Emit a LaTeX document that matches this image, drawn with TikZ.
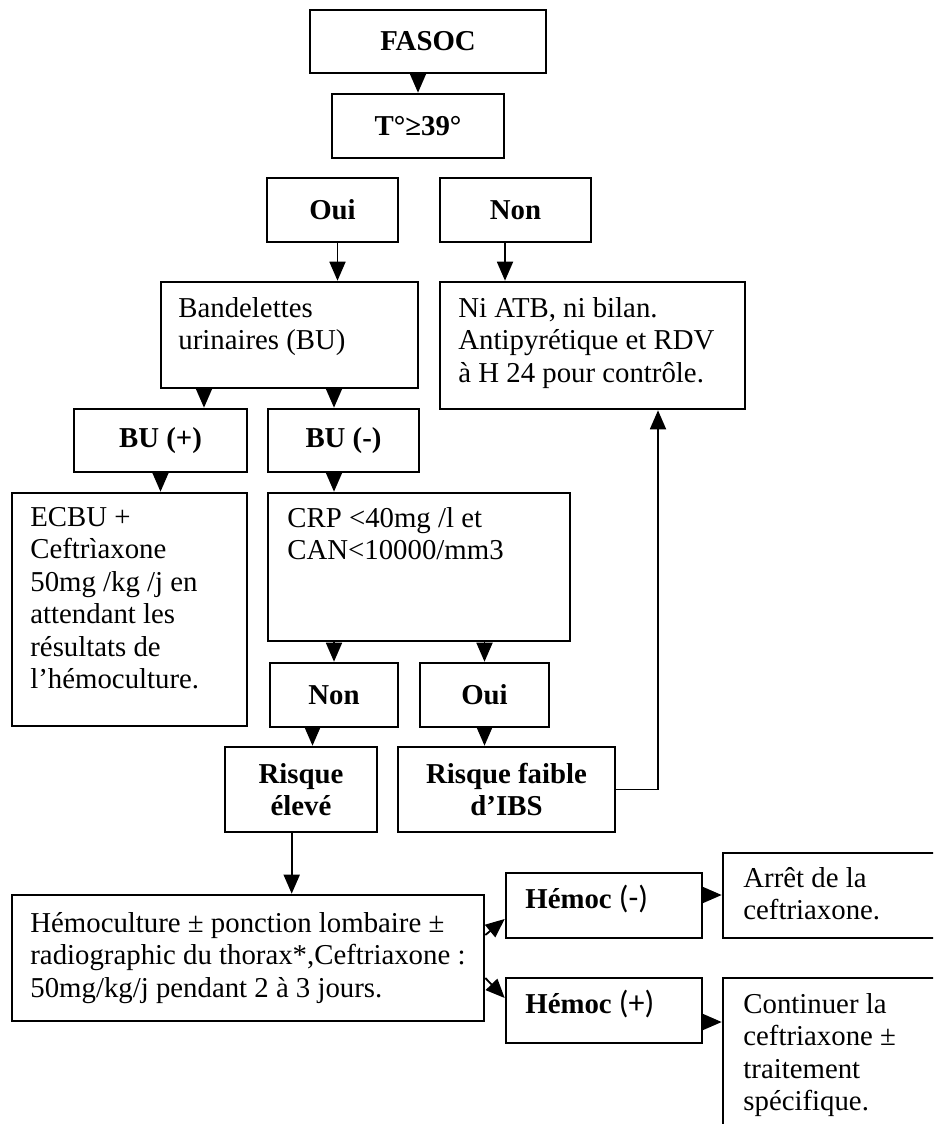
\documentclass[tikz,border=0pt]{standalone}
\usepackage{fontspec}
\setmainfont{Liberation Serif}
\newfontfamily\calib{Carlito}
\usetikzlibrary{arrows.meta,fit}

\newcommand{\chartfont}{\fontsize{14.4}{16.25}\selectfont}

\begin{document}
\begin{tikzpicture}[x=0.5pt, y=-0.5pt,
    box/.style={draw, line width=1.3pt, inner sep=0pt},
    hlab/.style={font=\chartfont\bfseries, align=center, inner sep=0pt},
    txt/.style={anchor=north west, inner sep=0pt, align=left, font=\chartfont},
    arr/.style={line width=0.9pt, -{Triangle[length=9.5pt, width=8pt]}},
  ]

\useasboundingbox (0,0) rectangle (933,1124);
\clip (0,0) rectangle (933,1124);

%fever question
\node[box, fit={(310,10) (546,73)}, label={[hlab]center:FASOC}] (fasoc) {};
\node[box, fit={(332,94) (504,158)}, label={[hlab]center:T°≥39°}] (temp) {};
\node[box, fit={(267,178) (398,242)}, label={[hlab]center:Oui}] (oui) {};
\node[box, fit={(440,178) (591,242)}, label={[hlab]center:Non}] (non) {};

\node[box, fit={(161,282) (418,388)}] (bandel) {};
\node[txt] (bandel-t) at (178,297) {Bandelettes\\urinaires (BU)};
\node[box, fit={(440,282) (745,409)}] (niatb) {};
\node[txt] (niatb-t) at (458,297) {Ni ATB, ni bilan.\\Antipyrétique et RDV\\à H 24 pour contrôle.};

%urine strips
\node[box, fit={(74,409) (247,472)}, label={[hlab]center:BU (+)}] (buplus) {};
\node[box, fit={(268,409) (419,472)}, label={[hlab]center:BU (-)}] (buminus) {};
\node[box, fit={(12,493) (247,726)}] (ecbu) {};
\node[txt] (ecbu-t) at (30,507) {ECBU +\\Ceftrìaxone\\50mg /kg /j en\\attendant les\\résultats de\\l’hémoculture.};
\node[box, fit={(268,493) (570,641)}] (crp) {};
\node[txt] (crp-t) at (287,507) {CRP <40mg /l et\\CAN<10000/mm3};

\node[box, fit={(270,663) (398,727)}, label={[hlab]center:Non}] (non2) {};
\node[box, fit={(420,663) (549,727)}, label={[hlab]center:Oui}] (oui2) {};
\node[box, fit={(225,747) (377,832)}, label={[hlab]center:Risque\\élevé}] (rhigh) {};
\node[box, fit={(398,747) (615,832)}, label={[hlab]center:Risque faible\\d’IBS}] (rlow) {};

%blood culture
\node[box, fit={(12,895) (484,1021)}] (hemo) {};
\node[txt] (hemo-t) at (30,912) {Hémoculture ± ponction lombaire ±\\radiographic du thorax*,Ceftriaxone :\\50mg/kg/j pendant 2 à 3 jours.};
\node[box, fit={(506,873) (702,938)}] (hneg) {};
\node[anchor=base west, inner sep=0pt, font=\chartfont] (hneg-t) at (525,908) {\textbf{Hémoc} {\calib\fontsize{16}{18}\selectfont (-)}};
\node[box, fit={(506,978) (702,1043)}] (hpos) {};
\node[anchor=base west, inner sep=0pt, font=\chartfont] (hpos-t) at (525,1013) {\textbf{Hémoc} {\calib\fontsize{16}{18}\selectfont (+)}};
\node[box, fit={(723,853) (1000,938)}] (arret) {};
\node[txt] (arret-t) at (743,867) {Arrêt de la\\ceftriaxone.};
\node[box, fit={(723,978) (1000,1200)}] (cont) {};
\node[txt] (cont-t) at (743,993) {Continuer la\\ceftriaxone ±\\traitement\\spécifique.};

%arrows
\draw[arr] (temp.north |- fasoc.south) -- (temp.north);
\draw[arr] ([xshift=2.5pt]oui.south) -- ([xshift=2.5pt]oui.south |- bandel.north);
\draw[arr] ([xshift=-5.25pt]non.south) -- ([xshift=-5.25pt]non.south |- niatb.north);
\draw[arr] ([xshift=21.75pt]buplus.north |- bandel.south) -- ([xshift=21.75pt]buplus.north);
\draw[arr] ([xshift=-4.75pt]buminus.north |- bandel.south) -- ([xshift=-4.75pt]buminus.north);
\draw[arr] (buplus.south) -- (buplus.south |- ecbu.north);
\draw[arr] ([xshift=-4.75pt]buminus.south) -- ([xshift=-4.75pt]buminus.south |- crp.north);
\draw[arr] (non2.north |- crp.south) -- (non2.north);
\draw[arr] (oui2.north |- crp.south) -- (oui2.north);
\draw[arr] ([xshift=-10.75pt]non2.south) -- ([xshift=-10.75pt]non2.south |- rhigh.north);
\draw[arr] (oui2.south) -- (oui2.south |- rlow.north);
\draw[arr] (rlow.east) -| ([xshift=32.75pt]niatb.south);
\draw[arr] ([xshift=-4.65pt]rhigh.south) -- ([xshift=-4.65pt]rhigh.south |- hemo.north);
\draw[arr] ([yshift=11.5pt]hemo.east) -- ([yshift=-6.75pt]hneg.west);
\draw[arr] ([yshift=-10pt]hemo.east) -- ([yshift=6.25pt]hpos.west);
\draw[arr] ([yshift=5.25pt]hneg.east) -- ([yshift=5.25pt]hneg.east -| arret.west);
\draw[arr] ([yshift=-5.75pt]hpos.east) -- ([yshift=-5.75pt]hpos.east -| cont.west);

\end{tikzpicture}
\end{document}
